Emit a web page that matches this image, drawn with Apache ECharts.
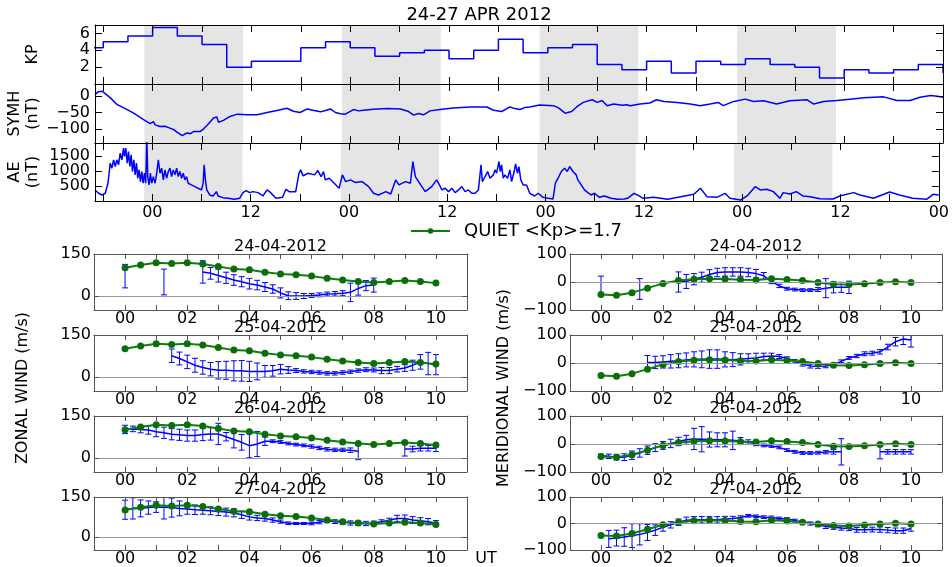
<!DOCTYPE html>
<html>
<head>
<meta charset="utf-8">
<script src="https://cdn.jsdelivr.net/npm/echarts@6.0.0/dist/echarts.min.js"></script>
<style>html,body{margin:0;padding:0;background:#fff;}#chart{width:952px;height:567px;}</style>
</head>
<body>
<div id="chart"></div>
<script>
// ---------------- DATA ----------------
// Geomagnetic indices, time in hours from 24-04-2012 00 UT
const kpTime = [-9,-6,-3,0,3,6,9,12,15,18,21,24,27,30,33,36,39,42,45,48,51,54,57,60,63,66,69,72,75,78,81,84,87,90,93,96];
const kpValue = [4.3,5.0,5.7,6.7,5.7,4.7,2.0,2.7,2.7,4.3,5.0,4.3,3.3,3.7,4.0,3.0,4.0,5.3,3.7,4.3,4.7,2.3,1.7,2.7,1.3,2.7,2.3,3.0,2.3,2.0,0.7,1.7,1.3,1.7,2.3,1.3];

const symhTime = [-7,-6.6,-6.4,-6.1,-5.9,-5.1,-4.3,-3.5,-2.3,-1.1,-0.3,-0.1,0.1,0.3,0.9,1.5,2.1,2.6,3.0,3.6,3.9,4.2,4.6,5.0,5.8,6.2,6.6,7.4,7.8,8.0,8.6,9.4,10.3,11.5,12.7,13.9,15.1,16.3,17.1,17.9,18.8,19.6,20.4,21.0,21.6,22.2,22.8,23.4,24.4,25.0,25.6,26.8,28.5,30.1,31.1,31.7,32.3,32.9,33.7,34.9,36.5,38.6,40.6,41.4,42.4,43.4,44.0,44.6,45.2,45.8,47.0,48.7,49.3,50.1,50.9,51.5,52.3,53.4,54.0,54.6,55.2,56.0,57.0,57.6,58.0,59.2,60.4,61.2,62.1,63.7,65.3,66.5,67.7,68.7,69.3,70.6,72.0,73.0,74.2,75.8,77.4,79.5,80.3,81.5,83.1,84.7,86.4,88.8,90.4,92.0,93.2,94.5,95.3,96];
const symhValue = [5,14,18,15,12,-6,-26,-36,-52,-72,-84,-87,-78,-88,-93,-92,-98,-103,-111,-121,-116,-113,-115,-108,-108,-100,-90,-67,-64,-80,-74,-62,-55,-57,-57,-50,-44,-37,-46,-50,-39,-44,-48,-44,-39,-50,-54,-55,-41,-45,-43,-40,-38,-39,-47,-58,-53,-57,-45,-41,-36,-33,-33,-43,-47,-33,-38,-41,-35,-33,-27,-29,-36,-52,-47,-33,-19,-11,-19,-13,-29,-24,-28,-26,-29,-24,-21,-11,-16,-19,-24,-29,-24,-19,-29,-16,-9,-16,-14,-24,-14,-11,-24,-16,-13,-9,-5,-2,-13,-13,-3,2,0,-3];

const aeTime = [-7,-6.56,-6.15,-5.75,-5.42,-5.14,-4.94,-4.73,-4.53,-4.33,-4.13,-3.92,-3.72,-3.52,-3.40,-3.24,-3.07,-2.91,-2.75,-2.59,-2.43,-2.26,-2.10,-1.94,-1.78,-1.62,-1.45,-1.29,-1.13,-0.97,-0.81,-0.68,-0.56,-0.40,-0.24,-0.08,0.12,0.33,0.53,0.73,0.93,1.14,1.34,1.54,1.74,1.95,2.15,2.35,2.55,2.76,2.96,3.16,3.36,3.57,3.77,3.97,4.17,4.38,4.58,4.78,5.19,5.59,5.99,6.20,6.32,6.48,6.64,7.01,7.41,7.82,8.02,8.63,9.23,10.04,10.65,11.06,11.46,11.87,12.27,
  12.9,13.5,14.0,14.3,15.1,15.9,16.3,16.7,17.5,17.9,18.1,18.4,19.0,19.8,20.2,20.6,20.9,21.1,21.6,22.2,22.8,23.2,23.6,24.2,24.8,25.6,26.4,27.0,27.6,28.5,29.1,29.7,30.1,30.9,31.5,31.8,32.1,32.5,33.3,34.1,34.7,
  34.94,35.34,35.75,36.15,36.56,36.96,37.37,37.77,38.18,38.58,38.99,39.39,39.80,40.12,40.28,40.61,40.93,41.22,41.62,41.82,42.02,42.31,42.47,42.63,42.83,43.04,43.36,43.64,43.85,44.17,44.33,44.58,44.74,44.98,45.26,45.67,46.07,46.68,47.09,47.69,48.30,48.91,49.19,49.52,49.92,50.32,50.65,50.93,51.13,51.34,51.54,51.74,51.94,52.35,52.75,53.16,53.56,53.97,54.58,55.18,55.99,56.80,
  57.6,58.0,58.8,59.2,59.9,61.2,62.9,64.5,66.1,66.9,67.7,68.9,69.9,70.5,71.8,72.6,73.6,74.2,75.0,75.8,76.6,77.0,77.8,78.6,79.4,80.3,81.5,83.1,83.9,85.6,86.4,88.0,90.0,91.2,92.8,94.5,95.3,96];
const aeValue = [367,256,200,256,589,1256,1089,1367,1144,1367,1200,1589,1367,1756,1478,1756,1256,1644,1144,1533,978,1367,867,1256,756,1033,644,978,589,922,589,2100,811,533,922,589,811,589,922,1367,922,1089,700,1033,756,978,1089,811,1033,867,1089,811,978,756,922,700,811,589,644,533,478,422,367,589,1200,700,367,200,167,311,167,111,89,56,89,278,344,278,311,
  278,167,367,311,89,122,389,311,311,922,1033,833,922,867,1011,811,978,700,756,589,422,867,644,700,611,644,478,255,200,311,233,700,533,644,589,1311,811,644,311,478,700,
  589,367,422,311,422,278,367,478,311,367,256,256,367,1200,644,811,978,756,867,1033,922,1311,978,1200,756,867,756,1033,644,978,1233,922,1144,700,533,533,256,167,256,122,89,67,589,756,978,1089,978,1144,1200,978,1033,867,700,533,367,278,200,256,122,167,89,56,
  67,89,255,200,89,122,55,144,222,422,144,122,255,89,33,167,478,367,389,311,89,278,233,311,167,144,78,67,167,278,200,89,300,200,89,55,222,200];

// shaded intervals (hours)
const shadeStart = [-1, 23, 47, 71];
const shadeEnd = [11, 35, 59, 83];

// axis ticks / labels
const topTicks = [-6,0,6,12,18,24,30,36,42,48,54,60,66,72,78,84,90,96];
const topLabels = [0,12,24,36,48,60,72,84,96];
const kpTicks = [2,4,6];
const symhTicks = [-100,-50,0];
const aeTicks = [500,1000,1500];
const windTimeTicks = [0,1,2,3,4,5,6,7,8,9,10];
const windTimeLabels = [0,2,4,6,8,10];
const zonalTicks = [0,150];
const meridTicks = [-100,0,100];

// FPI winds: quiet reference every 30 min, observations every 15 min (UT hours)
const quietTime = [0,0.5,1,1.5,2,2.5,3,3.5,4,4.5,5,5.5,6,6.5,7,7.5,8,8.5,9,9.5,10];
const quietZonal = [101,111,119,116,119,114,105,96,94,85,79,76,71,63,57,52,48,52,55,52,46];
const quietMerid = [-45,-47,-38,-22,-5,5,10,12,11,8,7,12,9,5,-2,-8,-9,-6,-2,1,-2];

const obsTime = [0,0.25,0.5,0.75,1,1.25,1.5,1.75,2,2.25,2.5,2.75,3,3.25,3.5,3.75,4,4.25,4.5,4.75,5,5.25,5.5,5.75,6,6.25,6.5,6.75,7,7.25,7.5,7.75,8,8.25,8.5,8.75,9,9.25,9.5,9.75,10];

const zonal24 = [71,null,null,null,null,50,null,null,null,null,86,81,73,65,57,51,44,39,32,25,11,1,0,0,2,4,7,8,10,13,27,37,39,null,null,null,null,null,null,null,null];
const zonal24Err = [42,null,null,null,null,46,null,null,null,null,40,21,23,20,19,18,19,17,16,15,18,14,12,9,7,7,7,8,9,33,24,18,25,null,null,null,null,null,null,null,null];
const zonal25 = [null,null,null,null,null,null,76,66,54,42,34,28,24,24,22,22,20,20,20,22,28,25,23,20,18,16,13,13,16,19,23,26,25,23,23,28,32,42,54,48,44];
const zonal25Err = [null,null,null,null,null,null,24,23,24,25,24,24,31,32,36,37,36,30,21,19,17,12,7,6,6,6,6,6,6,6,6,7,7,11,11,10,12,18,26,40,36];
const zonal26 = [102,104,102,100,94,90,85,83,80,80,84,86,86,76,66,56,44,50,60,60,57,52,48,45,41,36,31,29,29,28,24,null,null,null,null,null,32,32,35,35,35];
const zonal26Err = [15,10,12,15,18,20,20,20,20,20,22,22,38,15,30,28,43,45,15,5,5,5,5,5,6,6,6,6,6,8,30,null,null,null,null,null,25,10,10,10,12];
const zonal27 = [102,107,107,110,112,111,110,107,105,102,100,98,95,93,90,83,75,71,69,63,57,51,50,50,50,55,60,57,55,52,51,50,52,57,62,69,69,63,60,57,51];
const zonal27Err = [36,40,32,25,20,44,36,28,20,18,15,15,15,15,15,14,12,10,10,8,6,5,4,4,5,6,7,7,8,8,8,8,7,7,8,12,13,13,12,12,10];

const merid24 = [-12,null,null,null,null,-25,null,null,null,null,0,2,10,17,27,34,36,36,36,34,30,22,2,-14,-24,-27,-29,-29,-27,-22,-19,-19,-19,null,null,null,null,null,null,null,null];
const merid24Err = [33,null,null,null,null,37,null,null,null,null,36,25,20,18,17,15,15,15,15,15,15,12,8,6,5,5,5,5,7,34,20,18,22,null,null,null,null,null,null,null,null];
const merid25 = [null,null,null,null,null,null,2,2,4,6,8,11,13,13,14,14,13,12,13,16,18,23,25,23,16,6,-4,-11,-12,-11,-6,6,18,25,33,35,40,57,76,86,82];
const merid25Err = [null,null,null,null,null,null,25,22,22,24,25,25,27,30,33,33,27,25,20,17,17,12,10,7,6,6,7,7,7,6,6,5,5,6,7,7,8,10,15,20,25];
const merid26 = [-42,-44,-47,-47,-40,-32,-22,-13,-5,2,9,15,18,17,16,15,15,13,11,7,0,-5,-7,-12,-22,-28,-32,-32,-31,-29,-28,-28,null,null,null,null,-28,-28,-28,-28,-28];
const merid26Err = [6,8,10,12,15,15,15,14,14,15,15,16,38,45,27,25,25,33,12,8,6,5,5,5,5,5,5,5,5,6,8,47,null,null,null,null,25,8,8,8,8];
const merid27 = [null,-58,-55,-51,-46,-41,-34,-25,-14,-5,5,12,14,14,14,14,17,19,23,29,27,24,23,19,17,11,5,0,-5,-11,-14,-17,-19,-24,-24,-23,-23,-25,-27,-27,-19];
const merid27Err = [null,32,30,35,45,40,30,20,15,12,12,12,12,12,12,12,10,8,6,5,5,5,5,5,5,5,6,6,7,8,8,8,8,9,9,9,10,10,10,10,10];

const dayTitles = ['24-04-2012','25-04-2012','26-04-2012','27-04-2012'];
const zonalObs = [zonal24, zonal25, zonal26, zonal27];
const zonalErr = [zonal24Err, zonal25Err, zonal26Err, zonal27Err];
const meridObs = [merid24, merid25, merid26, merid27];
const meridErr = [merid24Err, merid25Err, merid26Err, merid27Err];
const quietName = 'QUIET <Kp>=1.7';

// ---------------- CHART ----------------
const FONT = 'DejaVu Sans';
const BLUE = '#0000ff';
const GREEN = '#0a800a';
const chart = echarts.init(document.getElementById('chart'));

const grids = [], xAxes = [], yAxes = [], series = [], graphics = [];
const minus = v => String(v).replace('-', '\u2212');
const labelStyle = (margin) => ({margin: margin, color: '#000', fontSize: 16, fontFamily: FONT,
  hideOverlap: false, showMinLabel: true, showMaxLabel: true});

function addGrid(rect, xc, yc, color, tickLen) {
  const gi = grids.length;
  grids.push(rect);
  const lineStyle = {color: color, width: 1};
  const base = {type: 'value', gridIndex: gi, z: 10, splitLine: {show: false},
    axisLine: {show: true, onZero: false, lineStyle: lineStyle}};
  const xi = xAxes.length, yi = yAxes.length;
  ['bottom', 'top'].forEach((pos, k) => {
    xAxes.push(Object.assign({}, base, {position: pos, min: xc.min, max: xc.max,
      axisTick: {show: true, inside: true, length: tickLen, customValues: xc.ticks, lineStyle: lineStyle},
      axisLabel: Object.assign(labelStyle(xc.margin), {show: k === 0 && xc.showLabel,
        customValues: xc.labels, formatter: xc.fmt})}));
  });
  // labels are split over two overlapping left axes so closely spaced labels all stay visible
  const evenLabels = yc.ticks.filter((v, i) => i % 2 === 0);
  const oddLabels = yc.ticks.filter((v, i) => i % 2 === 1);
  ['left', 'right'].forEach((pos, k) => {
    yAxes.push(Object.assign({}, base, {position: pos, min: yc.min, max: yc.max,
      axisTick: {show: true, inside: true, length: tickLen, customValues: yc.ticks, lineStyle: lineStyle},
      axisLabel: Object.assign(labelStyle(yc.margin), {show: k === 0, customValues: evenLabels, formatter: minus})}));
  });
  if (oddLabels.length) {
    yAxes.push({type: 'value', gridIndex: gi, position: 'left', offset: 0, min: yc.min, max: yc.max,
      splitLine: {show: false}, axisLine: {show: false}, axisTick: {show: false},
      axisLabel: Object.assign(labelStyle(yc.margin), {customValues: oddLabels, formatter: minus})});
  }
  return {xi: xi, yi: yi};
}

const zip = (xs, ys) => xs.map((x, i) => [x, ys[i]]);
const shadeArea = {silent: true, itemStyle: {color: '#e5e5e5'},
  data: shadeStart.map((s, i) => [{xAxis: s}, {xAxis: shadeEnd[i]}])};

// ---- top panels ----
const topLeft = 95, topWidth = 848;
const topX = (showLabel) => ({min: -7, max: 96, ticks: topTicks, labels: topLabels, showLabel: showLabel,
  fmt: v => (v % 24 === 0 ? '00' : '12'), margin: 4});
const topPanels = [
  {top: 25, height: 59, y: {min: 0, max: 7, ticks: kpTicks, margin: 5}, t: kpTime, v: kpValue, step: 'end', label: 'KP'},
  {top: 84, height: 59, y: {min: -143.5, max: 37.4, ticks: symhTicks, margin: 5}, t: symhTime, v: symhValue, label: 'SYMH\n(nT)'},
  {top: 143, height: 58, y: {min: 0, max: 1925, ticks: aeTicks, margin: 5}, t: aeTime, v: aeValue, label: 'AE\n(nT)'}
];
topPanels.forEach((p, i) => {
  const ax = addGrid({left: topLeft, top: p.top, width: topWidth, height: p.height},
    topX(i === 2), p.y, '#000', 7);
  series.push({type: 'line', xAxisIndex: ax.xi, yAxisIndex: ax.yi, data: zip(p.t, p.v),
    step: p.step || false, showSymbol: false, symbol: 'none', clip: true,
    lineStyle: {color: BLUE, width: 1.5}, itemStyle: {color: BLUE}, markArea: shadeArea});
  graphics.push({type: 'text', x: i === 0 ? 33 : 24, y: p.top + p.height / 2, rotation: Math.PI / 2,
    style: {text: p.label, fontSize: 16, fontFamily: FONT, fill: '#000', lineHeight: 18,
      align: 'center', verticalAlign: 'middle', textAlign: 'center', textVerticalAlign: 'middle'}});
});

// ---- wind panels ----
const colLeft = [94, 570], colWidth = [373, 372];
const rowTop = [254, 335, 416, 497], rowHeight = 56;
const windX = {min: -1, max: 11, ticks: windTimeTicks, labels: windTimeLabels, showLabel: true,
  fmt: v => (v < 10 ? '0' : '') + v, margin: 1};

function errRender(params, api) {
  const x = api.value(0);
  const p1 = api.coord([x, api.value(2)]);
  const p2 = api.coord([x, api.value(1)]);
  const w = 3;
  const style = {stroke: BLUE, lineWidth: 1};
  return {type: 'group', children: [
    {type: 'line', shape: {x1: p1[0], y1: p1[1], x2: p2[0], y2: p2[1]}, style: style},
    {type: 'line', shape: {x1: p1[0] - w, y1: p1[1], x2: p1[0] + w, y2: p1[1]}, style: style},
    {type: 'line', shape: {x1: p2[0] - w, y1: p2[1], x2: p2[0] + w, y2: p2[1]}, style: style}
  ]};
}

[0, 1].forEach(col => {
  const quiet = col === 0 ? quietZonal : quietMerid;
  const obsList = col === 0 ? zonalObs : meridObs;
  const errList = col === 0 ? zonalErr : meridErr;
  const yc = col === 0 ? {min: -50, max: 150, ticks: zonalTicks, margin: 3}
                       : {min: -100, max: 100, ticks: meridTicks, margin: 3};
  rowTop.forEach((top, row) => {
    const ax = addGrid({left: colLeft[col], top: top, width: colWidth[col], height: rowHeight},
      windX, yc, '#555', 5);
    const obs = obsList[row], err = errList[row];
    const errData = [];
    obsTime.forEach((t, i) => { if (obs[i] != null && err[i] != null) errData.push([t, obs[i] - err[i], obs[i] + err[i]]); });
    series.push({type: 'custom', xAxisIndex: ax.xi, yAxisIndex: ax.yi, renderItem: errRender,
      data: errData, clip: true, z: 2, silent: true, encode: {x: 0, y: [1, 2]},
      markLine: {silent: true, symbol: 'none', label: {show: false}, animation: false,
        lineStyle: {color: '#9a9a9a', width: 1, type: 'solid'}, data: [{yAxis: 0}]}});
    series.push({type: 'line', xAxisIndex: ax.xi, yAxisIndex: ax.yi, data: zip(obsTime, obs),
      showSymbol: false, symbol: 'none', connectNulls: false, clip: true, z: 3,
      lineStyle: {color: BLUE, width: 1.5}, itemStyle: {color: BLUE}});
    series.push({type: 'line', name: quietName, xAxisIndex: ax.xi, yAxisIndex: ax.yi,
      data: zip(quietTime, quiet), symbol: 'circle', symbolSize: 7, showSymbol: true, clip: true, z: 4,
      lineStyle: {color: GREEN, width: 2}, itemStyle: {color: '#0b6e0b'}});
    graphics.push({type: 'text', x: colLeft[col] + colWidth[col] / 2, y: top - 7,
      style: {text: dayTitles[row], fontSize: 16, fontFamily: FONT, fill: '#000',
        align: 'center', verticalAlign: 'middle', textAlign: 'center', textVerticalAlign: 'middle'}});
  });
});

const txt = (text, x, y, size, rot) => ({type: 'text', x: x, y: y, rotation: rot || 0,
  style: {text: text, fontSize: size, fontFamily: FONT, fill: '#000',
    align: 'center', verticalAlign: 'middle', textAlign: 'center', textVerticalAlign: 'middle'}});
graphics.push(txt('24-27 APR 2012', 479, 15, 18));
graphics.push(txt('ZONAL WIND (m/s)', 23, 388, 16, Math.PI / 2));
graphics.push(txt('MERIDIONAL WIND (m/s)', 504, 388, 16, Math.PI / 2));
graphics.push(txt('UT', 486, 559, 16));

chart.setOption({
  animation: false,
  backgroundColor: '#fff',
  textStyle: {fontFamily: FONT},
  grid: grids,
  xAxis: xAxes,
  yAxis: yAxes,
  legend: {data: [quietName], left: 410, top: 222, padding: 0, itemWidth: 39, itemHeight: 7,
    textStyle: {fontSize: 18, fontFamily: FONT, color: '#000', padding: [0, 0, 0, 9]}},
  graphic: graphics,
  series: series
});
</script>
</body>
</html>
